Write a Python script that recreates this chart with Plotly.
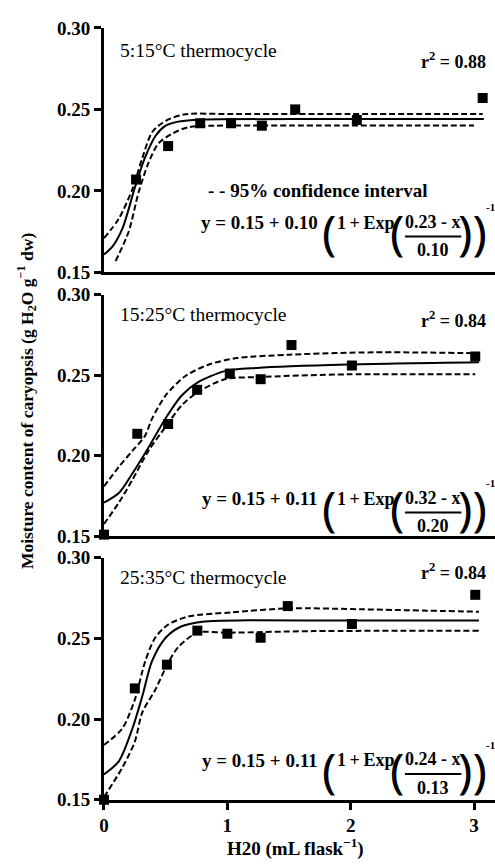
import plotly.graph_objects as go

W, H = 495, 867

# ---------------- data ----------------
# Panel 1: 5:15 C thermocycle
obs1_x = [0.26, 0.52, 0.78, 1.03, 1.28, 1.55, 2.05, 3.07]
obs1_y = [0.207, 0.2275, 0.2415, 0.2415, 0.240, 0.250, 0.2435, 0.257]
fit1_x = [0.0, 0.07, 0.15, 0.25, 0.33, 0.42, 0.5, 0.6, 0.75, 1.0, 2.0, 3.08]
fit1_y = [0.161, 0.166, 0.177, 0.202, 0.220, 0.234, 0.240, 0.2425, 0.2437, 0.244, 0.2441, 0.2441]
up1_x = [0.0, 0.12, 0.23, 0.31, 0.39, 0.50, 0.66, 1.0, 2.0, 3.07]
up1_y = [0.171, 0.183, 0.201, 0.220, 0.236, 0.243, 0.247, 0.2472, 0.2472, 0.2472]
lo1_x = [0.094, 0.2, 0.28, 0.36, 0.44, 0.55, 0.68, 0.9, 1.5, 3.0]
lo1_y = [0.157, 0.175, 0.199, 0.217, 0.229, 0.235, 0.239, 0.240, 0.2401, 0.2401]

# Panel 2: 15:25 C thermocycle
obs2_x = [0.0, 0.27, 0.52, 0.755, 1.02, 1.27, 1.52, 2.01, 3.01]
obs2_y = [0.151, 0.2136, 0.2197, 0.2409, 0.251, 0.2475, 0.2687, 0.256, 0.2616]
fit2_x = [0.0, 0.12, 0.23, 0.36, 0.5, 0.63, 0.76, 0.98, 1.24, 1.97, 3.04]
fit2_y = [0.1708, 0.1768, 0.189, 0.205, 0.2233, 0.2374, 0.2455, 0.2525, 0.2545, 0.2566, 0.258]
up2_x = [0.0, 0.12, 0.23, 0.33, 0.39, 0.5, 0.66, 0.85, 1.08, 1.5, 2.2, 3.01]
up2_y = [0.181, 0.193, 0.203, 0.212, 0.223, 0.2374, 0.2495, 0.2566, 0.2606, 0.2627, 0.2642, 0.2636]
lo2_x = [0.0, 0.12, 0.23, 0.36, 0.5, 0.63, 0.76, 0.98, 1.24, 1.97, 3.01]
lo2_y = [0.1576, 0.1708, 0.185, 0.203, 0.218, 0.2313, 0.2394, 0.2475, 0.2488, 0.2505, 0.2505]

# Panel 3: 25:35 C thermocycle
obs3_x = [0.0, 0.25, 0.51, 0.757, 1.0, 1.27, 1.49, 2.01, 3.01]
obs3_y = [0.150, 0.219, 0.2337, 0.2548, 0.2529, 0.2504, 0.270, 0.2589, 0.277]
fit3_x = [0.0, 0.12, 0.23, 0.31, 0.39, 0.5, 0.63, 0.815, 1.165, 2.0, 3.04]
fit3_y = [0.1657, 0.1738, 0.194, 0.214, 0.236, 0.2504, 0.2575, 0.2605, 0.2612, 0.261, 0.261]
up3_x = [0.0, 0.147, 0.25, 0.335, 0.415, 0.52, 0.68, 1.03, 1.5, 2.1, 3.04]
up3_y = [0.1839, 0.194, 0.212, 0.236, 0.2504, 0.2585, 0.2635, 0.2661, 0.2686, 0.268, 0.2665]
lo3_x = [0.0, 0.147, 0.25, 0.31, 0.415, 0.51, 0.60, 0.757, 1.0, 1.7, 3.04]
lo3_y = [0.1516, 0.1697, 0.186, 0.204, 0.218, 0.2333, 0.2444, 0.2535, 0.2535, 0.2545, 0.2547]

panel_titles = ["5:15°C thermocycle", "15:25°C thermocycle", "25:35°C thermocycle"]
r2_values = ["0.88", "0.84", "0.84"]
eq_const = ["y = 0.15 + 0.10", "y = 0.15 + 0.11", "y = 0.15 + 0.11"]
eq_num = ["0.23 - x", "0.32 - x", "0.24 - x"]
eq_den = ["0.10", "0.20", "0.13"]

y_ticks = [0.15, 0.20, 0.25, 0.30]
y_tick_text = ["0.15", "0.20", "0.25", "0.30"]
x_ticks = [0, 1, 2, 3]
x_tick_text = ["0", "1", "2", "3"]

ci_label = "- - 95% confidence interval"
y_title = "Moisture content of caryopsis (g H<sub>2</sub>O g<sup>−1</sup> dw)"
x_title = "H20 (mL flask<sup>−1</sup>)"

# ---------------- layout helpers ----------------
SERIF = "Liberation Serif"
def px(x):
    return x / W
def py(y):
    return 1 - y / H

panels = [
    dict(obs=(obs1_x, obs1_y), fit=(fit1_x, fit1_y), up=(up1_x, up1_y), lo=(lo1_x, lo1_y),
         top=18.3, bot=269.0, title_y=41, r2_y=52, bar_y=232),
    dict(obs=(obs2_x, obs2_y), fit=(fit2_x, fit2_y), up=(up2_x, up2_y), lo=(lo2_x, lo2_y),
         top=291.7, bot=539.3, title_y=312, r2_y=317, bar_y=515),
    dict(obs=(obs3_x, obs3_y), fit=(fit3_x, fit3_y), up=(up3_x, up3_y), lo=(lo3_x, lo3_y),
         top=561.3, bot=809.3, title_y=582, r2_y=575, bar_y=783),
]

fig = go.Figure()
annotations = []
shapes = []
layout_axes = {}

def ann(text, x, y, xanchor, font, **kw):
    d = dict(text=text, x=px(x), y=py(y), xref="paper", yref="paper",
             xanchor=xanchor, yanchor="middle", showarrow=False, font=font)
    d.update(kw)
    annotations.append(d)

for i, p in enumerate(panels):
    n = i + 1
    xa = "x" if n == 1 else f"x{n}"
    ya = "y" if n == 1 else f"y{n}"
    line_kw = dict(color="black", width=2, shape="spline", smoothing=0.8)
    fig.add_trace(go.Scatter(x=p["up"][0], y=p["up"][1], mode="lines",
                             line=dict(dash="6px,3px", **line_kw), xaxis=xa, yaxis=ya,
                             showlegend=False, cliponaxis=False))
    fig.add_trace(go.Scatter(x=p["lo"][0], y=p["lo"][1], mode="lines",
                             line=dict(dash="6px,3px", **line_kw), xaxis=xa, yaxis=ya,
                             showlegend=False, cliponaxis=False))
    fig.add_trace(go.Scatter(x=p["fit"][0], y=p["fit"][1], mode="lines",
                             line=dict(**line_kw), xaxis=xa, yaxis=ya,
                             showlegend=False, cliponaxis=False))
    fig.add_trace(go.Scatter(x=p["obs"][0], y=p["obs"][1], mode="markers",
                             marker=dict(symbol="square", size=10, color="black"),
                             xaxis=xa, yaxis=ya, showlegend=False, cliponaxis=False))

    xkey = "xaxis" if n == 1 else f"xaxis{n}"
    ykey = "yaxis" if n == 1 else f"yaxis{n}"
    last = (n == 3)
    xa_cfg = dict(
        domain=[px(100), 1.0], range=[0, 3.17], anchor=ya,
        showline=True, linewidth=3, linecolor="black", showgrid=False, zeroline=False,
        fixedrange=True,
    )
    if last:
        xa_cfg.update(ticks="outside", ticklen=7, tickwidth=2.5, tickcolor="black",
                      tickvals=x_ticks, ticktext=x_tick_text, showticklabels=True,
                      tickfont=dict(family=SERIF, size=19, color="black", weight="bold"))
    else:
        xa_cfg.update(ticks="", tickvals=[], showticklabels=False)
    layout_axes[xkey] = xa_cfg
    layout_axes[ykey] = dict(
        domain=[py(p["bot"]), py(p["top"])], range=[0.15, 0.30], anchor=xa,
        showline=True, linewidth=3, linecolor="black", showgrid=False, zeroline=False,
        ticks="outside", ticklen=7, tickwidth=2.5, tickcolor="black",
        tickvals=y_ticks, ticktext=y_tick_text,
        tickfont=dict(family=SERIF, size=19, color="black", weight="bold"),
        fixedrange=True,
    )

    # panel title and r^2
    ann(panel_titles[i], 114, p["title_y"], "left",
        dict(family=SERIF, size=19.5, color="black"))
    ann(f"r<sup>2</sup> = {r2_values[i]}", 488, p["r2_y"], "right",
        dict(family=SERIF, size=18, color="black", weight="bold"))

    # equation
    b = p["bar_y"]
    efont = dict(family=SERIF, size=19, color="black", weight="bold")
    ffont = dict(family=SERIF, size=18, color="black", weight="bold")
    pfont = dict(family="Noto Sans", size=48, color="black")
    ann(eq_const[i], 318, b - 14, "right", efont)
    ann("(", 327, b - 5, "center", pfont)
    ann("1\u2009+\u2009Exp", 333, b - 14, "left", ffont)
    ann("(", 396, b - 5, "center", pfont)
    ann(eq_num[i], 432, b - 15, "center", ffont)
    ann(eq_den[i], 432, b + 14, "center", ffont)
    ann("))", 472, b - 5, "center", pfont)
    ann("-1", 490, b - 30, "center", dict(family=SERIF, size=11, color="black", weight="bold"))
    shapes.append(dict(type="line", xref="paper", yref="paper",
                       x0=px(404), x1=px(461), y0=py(b), y1=py(b),
                       line=dict(color="black", width=2)))

# confidence-interval note (panel 1)
ann(ci_label, 203, 185, "left", dict(family=SERIF, size=19, color="black", weight="bold"))
# axis titles
ann(y_title, 22, 400, "center", dict(family=SERIF, size=17.5, color="black", weight="bold"),
    textangle=-90)
ann(x_title, 293, 858, "center", dict(family=SERIF, size=19, color="black", weight="bold"))

fig.update_layout(
    width=W, height=H, margin=dict(l=0, r=0, t=0, b=0),
    paper_bgcolor="white", plot_bgcolor="white",
    annotations=annotations, shapes=shapes, showlegend=False,
    **layout_axes,
)

fig.write_html("out.html", config={"displayModeBar": False})
